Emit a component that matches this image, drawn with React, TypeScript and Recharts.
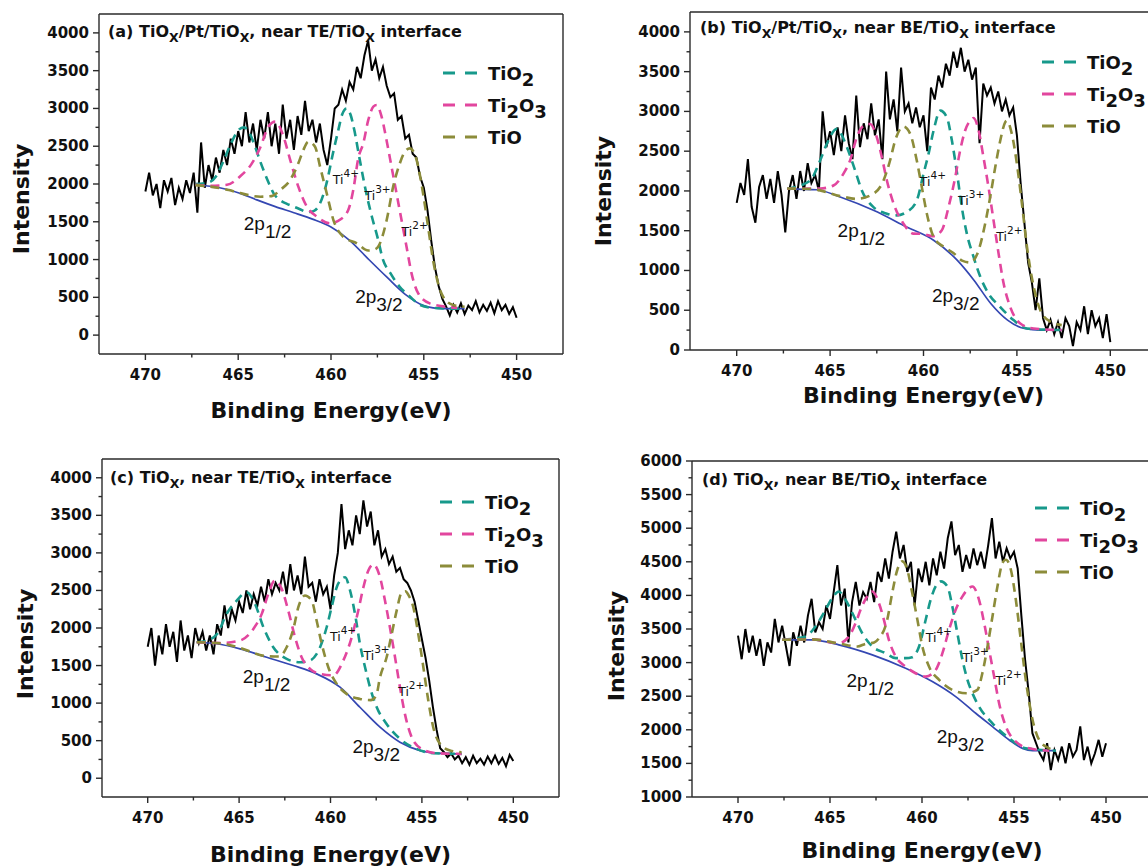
import React from 'react';
import { LineChart, Line, XAxis, YAxis, ReferenceDot, Legend } from 'recharts';

// energy grid of the measured spectra (eV)
const RAW_E = [
  470, 469.8, 469.6, 469.4, 469.2, 469, 468.8, 468.6, 468.4, 468.2,
  468, 467.8, 467.6, 467.4, 467.2, 467, 466.8, 466.6, 466.4, 466.2,
  466, 465.8, 465.6, 465.4, 465.2, 465, 464.8, 464.6, 464.4, 464.2,
  464, 463.8, 463.6, 463.4, 463.2, 463, 462.8, 462.6, 462.4, 462.2,
  462, 461.8, 461.6, 461.4, 461.2, 461, 460.8, 460.6, 460.4, 460.2,
  460, 459.8, 459.6, 459.4, 459.2, 459, 458.8, 458.6, 458.4, 458.2,
  458, 457.8, 457.6, 457.4, 457.2, 457, 456.8, 456.6, 456.4, 456.2,
  456, 455.8, 455.6, 455.4, 455.2, 455, 454.8, 454.6, 454.4, 454.2,
  454, 453.8, 453.6, 453.4, 453.2, 453, 452.8, 452.6, 452.4, 452.2,
  452, 451.8, 451.6, 451.4, 451.2, 451, 450.8, 450.6, 450.4, 450.2,
  450,
];

// measured intensity, one list per panel
const RAW_A = [
  1900, 2150, 1850, 2000, 1680, 2050, 1900, 2080, 1720, 1950,
  1800, 2050, 1880, 2150, 1620, 2550, 1950, 2250, 2050, 2350,
  2150, 2450, 2250, 2600, 2400, 2700, 2500, 2950, 2550, 2800,
  2450, 2850, 2600, 2950, 2500, 2800, 2400, 3050, 2600, 2850,
  2450, 2900, 2650, 3100, 2700, 2850, 2550, 2800, 2450, 2250,
  2600, 3000, 3050, 3250, 3100, 3350, 3250, 3550, 3400, 3700,
  3900, 3500, 3650, 3400, 3550, 3300, 3150, 3200, 2850, 2900,
  2600, 2650, 2400, 2350, 2100, 1950, 1650, 1250, 900, 650,
  480, 380, 260, 400, 300, 420, 280, 390, 330, 450,
  300, 400, 320, 430, 290, 450, 330, 400, 280, 370,
  230,
];
const RAW_B = [
  1850, 2100, 1950, 2400, 1800, 1600, 2050, 2200, 1900, 2150,
  1850, 2250, 1950, 1480, 2000, 2200, 1900, 2250, 2000, 2350,
  2100, 2200, 2000, 3000, 2550, 2750, 2450, 2800, 2500, 2950,
  2600, 2400, 3200, 2550, 2850, 2650, 3100, 2700, 2900, 2400,
  3500, 2900, 3150, 2750, 3550, 3000, 3100, 2850, 3050, 2800,
  2950, 2500, 3300, 3150, 3450, 3300, 3600, 3450, 3750, 3550,
  3800, 3500, 3650, 3400, 3550, 2600, 3350, 3200, 3300, 3100,
  3250, 3000, 3150, 2950, 3050, 2700, 2100, 1600, 1100, 850,
  500, 900, 400, 250, 380, 200, 350, 150, 400, 300,
  50, 350, 250, 550, 200, 500, 300, 400, 150, 450,
  100,
];
const RAW_C = [
  1750, 2000, 1500, 1900, 1650, 2050, 1750, 1950, 1550, 2100,
  1700, 1900, 1600, 2000, 1800, 1950, 1700, 1900, 1650, 2050,
  1900, 2300, 2000, 2250, 2100, 2350, 2200, 2500, 2250, 2450,
  2300, 2550, 2350, 2650, 2450, 2600, 2500, 2750, 2450, 2850,
  2500, 2700, 2450, 2950, 2550, 2600, 2350, 2650, 2450, 2550,
  2250, 2700, 3000, 3650, 3050, 3300, 3100, 3500, 3250, 3700,
  3350, 3550, 3100, 3300, 2950, 3050, 2850, 2950, 2750, 2800,
  2650, 2600, 2500, 2350, 2100, 1850, 1600, 1300, 950, 650,
  400, 350, 280, 330, 250, 300, 200, 280, 180, 300,
  200, 260, 180, 290, 200, 300, 190, 270, 160, 310,
  230,
];
const RAW_D = [
  3400, 3050, 3500, 3150, 3400, 3100, 3350, 2950, 3300, 3150,
  3650, 3300, 3550, 3250, 2950, 3450, 3250, 3550, 3300, 3700,
  3950, 3450, 3600, 3500, 3850, 3650, 4050, 4450, 3850, 4100,
  3300, 3900, 4200, 3850, 4050, 3950, 4200, 3900, 4350, 4200,
  4550, 4250, 4650, 4950, 4550, 4750, 4350, 4500, 3850, 4400,
  4200, 4500, 4150, 4550, 4300, 4650, 4400, 4850, 5100, 4600,
  4750, 4350, 4600, 4400, 4700, 4450, 4650, 4400, 4750, 5150,
  4550, 4800, 4500, 4700, 4550, 4650, 4400, 3700, 3050, 2550,
  1950, 1800, 1650, 1550, 1800, 1400, 1700, 1550, 1750, 1500,
  1800, 1600, 1700, 2050, 1550, 1750, 1500, 1650, 1850, 1600,
  1800,
];

type Pair = [number, number];

// Shirley background and fitted components, [energy, intensity]
const BG_A: Pair[] = [[467.3, 1990], [466.5, 1970], [466, 1950], [465, 1885], [464, 1790], [463, 1700], [462, 1620], [461, 1535], [460, 1430], [459, 1255], [458, 1010], [457, 770], [456, 540], [455, 390], [454.5, 360], [454, 350], [452.8, 350]];
const TIO2_A: Pair[] = [[467.3, 2000], [466.6, 2020], [466.2, 2100], [465.8, 2300], [465.4, 2530], [465, 2710], [464.7, 2750], [464.4, 2680], [464.1, 2500], [463.8, 2290], [463.4, 2040], [463.1, 1880], [462.7, 1780], [462.4, 1740], [462, 1700], [461.7, 1670], [461.3, 1630], [460.95, 1640], [460.6, 1740], [460.25, 2000], [459.9, 2400], [459.6, 2720], [459.4, 2920], [459.16, 3000], [458.95, 2920], [458.75, 2720], [458.45, 2320], [458.1, 1880], [457.8, 1570], [457.5, 1300], [457.2, 1000], [456.8, 820], [456.3, 640], [455.75, 510], [455.2, 400], [454.5, 360], [453.5, 350], [452.8, 350]];
const TI2O3_A: Pair[] = [[467.3, 1990], [466.5, 1975], [465.6, 1990], [464.9, 2100], [464.27, 2270], [463.8, 2490], [463.37, 2760], [463, 2825], [462.56, 2630], [462.2, 2320], [461.76, 1965], [461.3, 1700], [460.77, 1570], [460.05, 1480], [459.5, 1530], [459.07, 1656], [458.8, 1920], [458.53, 2340], [458.26, 2540], [457.99, 2848], [457.72, 3024], [457.54, 3046], [457.28, 2896], [457.01, 2583], [456.74, 2230], [456.47, 1877], [456.2, 1523], [455.93, 1170], [455.66, 817], [455.3, 552], [454.68, 420], [453.78, 375], [453.2, 360]];
const TIO_A: Pair[] = [[467.3, 1985], [466.5, 1965], [465.5, 1920], [464.9, 1880], [463.8, 1832], [463.2, 1840], [462.74, 1920], [462.2, 2053], [461.76, 2274], [461.49, 2450], [461.22, 2560], [460.86, 2494], [460.59, 2230], [460.23, 1876], [459.87, 1523], [459.34, 1302], [458.6, 1214], [458, 1120], [457.7, 1130], [457.46, 1170], [457, 1523], [456.65, 1965], [456.29, 2274], [456.02, 2428], [455.75, 2472], [455.39, 2318], [455.04, 1876], [454.77, 1435], [454.5, 993], [454.23, 684], [453.96, 508], [453.42, 397], [452.8, 375]];

const BG_B: Pair[] = [[467.3, 2027], [465.7, 2015], [464.46, 1923], [462.68, 1756], [460.9, 1547], [459.46, 1380], [458.2, 1130], [457.3, 878], [456.4, 585], [455.5, 376], [454.6, 270], [453.75, 250], [452.6, 250]];
const TIO2_B: Pair[] = [[467.3, 2027], [466.07, 2130], [465.54, 2380], [465.18, 2590], [464.64, 2780], [464.1, 2550], [463.66, 2257], [463.3, 2006], [462.68, 1797], [461.96, 1714], [461.43, 1693], [460.9, 1735], [460.36, 1880], [460, 2215], [459.73, 2466], [459.46, 2760], [459.1, 3010], [458.75, 2926], [458.48, 2633], [458.2, 2215], [457.95, 1797], [457.68, 1463], [457.32, 1170], [456.96, 920], [456.52, 710], [455.9, 543], [455.18, 376], [454.46, 270], [452.6, 250]];
const TI2O3_B: Pair[] = [[467.3, 2027], [465.54, 2030], [464.82, 2069], [464.29, 2215], [463.93, 2383], [463.57, 2675], [463.2, 2822], [462.86, 2842], [462.5, 2675], [462.23, 2424], [461.96, 2132], [461.6, 1839], [461.07, 1588], [460.54, 1463], [460.09, 1460], [459.5, 1430], [459.02, 1505], [458.66, 1797], [458.3, 2174], [458.04, 2508], [457.77, 2760], [457.41, 2905], [457.32, 2918], [457.05, 2760], [456.79, 2424], [456.52, 2048], [456.25, 1630], [455.98, 1212], [455.71, 836], [455.36, 543], [454.82, 334], [454.1, 270], [452.6, 250]];
const TIO_B: Pair[] = [[467.3, 2030], [466, 2025], [464.46, 1935], [463.57, 1900], [462.68, 1965], [462.14, 2132], [461.79, 2383], [461.52, 2633], [461.07, 2810], [460.71, 2717], [460.36, 2383], [460.09, 2048], [459.82, 1714], [459.46, 1421], [458.93, 1300], [458.4, 1220], [457.9, 1120], [457.5, 1100], [457.05, 1254], [456.7, 1588], [456.43, 1923], [456.16, 2299], [455.89, 2633], [455.63, 2863], [455.54, 2884], [455.27, 2717], [455, 2341], [454.73, 1839], [454.46, 1296], [454.1, 794], [453.75, 502], [453.2, 355], [452.6, 313]];

const BG_C: Pair[] = [[467.32, 1810], [466.23, 1790], [464.95, 1722], [463.49, 1611], [462.03, 1500], [460.76, 1389], [459.48, 1212], [458.39, 945], [457.29, 679], [456.2, 479], [455.1, 368], [454.19, 333], [453.28, 324], [452.83, 324]];
const TIO2_C: Pair[] = [[467.32, 1810], [466.8, 1830], [466.2, 1922], [465.68, 2188], [465.13, 2365], [464.59, 2476], [464.13, 2321], [463.67, 2010], [463.13, 1744], [462.4, 1589], [461.67, 1544], [461.12, 1567], [460.57, 1744], [460.21, 2010], [459.94, 2277], [459.66, 2543], [459.39, 2654], [459.2, 2676], [458.93, 2499], [458.66, 2188], [458.39, 1789], [458.11, 1478], [457.84, 1212], [457.47, 945], [456.93, 723], [456.2, 524], [455.29, 390], [454.38, 333], [452.83, 324]];
const TI2O3_C: Pair[] = [[467.32, 1810], [466, 1800], [464.95, 1833], [464.22, 1988], [463.76, 2188], [463.4, 2454], [463.04, 2632], [462.67, 2521], [462.31, 2232], [461.94, 1877], [461.58, 1611], [461.12, 1456], [460.57, 1389], [459.85, 1370], [459.3, 1567], [458.84, 1877], [458.48, 2232], [458.2, 2543], [457.93, 2765], [457.66, 2845], [457.29, 2676], [457.02, 2365], [456.75, 2010], [456.47, 1611], [456.2, 1212], [455.93, 857], [455.56, 546], [455.01, 390], [454.19, 333], [452.83, 324]];
const TIO_C: Pair[] = [[467.32, 1810], [466, 1795], [464.95, 1735], [463.5, 1625], [462.8, 1620], [462.4, 1744], [462.03, 1988], [461.76, 2277], [461.4, 2432], [461.03, 2365], [460.76, 2099], [460.48, 1789], [460.12, 1478], [459.66, 1256], [459.12, 1123], [458.39, 1056], [457.8, 1040], [457.5, 1100], [457.29, 1345], [456.93, 1611], [456.65, 1922], [456.38, 2232], [456.11, 2470], [455.9, 2490], [455.74, 2440], [455.47, 2277], [455.2, 1922], [454.92, 1478], [454.65, 1034], [454.38, 679], [454.01, 457], [453.46, 368], [452.83, 346]];

const BG_D: Pair[] = [[467.6, 3339], [465.97, 3339], [464.52, 3264], [462.7, 3115], [460.89, 2916], [459.44, 2718], [458.17, 2494], [457.08, 2246], [456.17, 2047], [455.26, 1848], [454.54, 1724], [453.99, 1689], [452.72, 1689]];
const TIO2_D: Pair[] = [[467.6, 3339], [466.33, 3389], [465.79, 3538], [465.34, 3736], [464.88, 3960], [464.52, 4058], [464.16, 3935], [463.61, 3637], [463.25, 3439], [462.7, 3240], [461.98, 3141], [461.43, 3066], [460.89, 3066], [460.53, 3080], [460.16, 3239], [459.8, 3637], [459.53, 3935], [459.26, 4133], [458.98, 4208], [458.62, 4133], [458.35, 3836], [458.08, 3439], [457.8, 3041], [457.53, 2743], [457.26, 2545], [456.9, 2346], [456.17, 2097], [455.26, 1873], [454.36, 1724], [452.72, 1689]];
const TI2O3_D: Pair[] = [[467.6, 3339], [465.97, 3345], [464.52, 3289], [463.97, 3389], [463.61, 3587], [463.34, 3786], [462.98, 3985], [462.7, 4058], [462.34, 3885], [462.07, 3637], [461.8, 3339], [461.43, 3091], [460.89, 2941], [460.35, 2842], [459.8, 2792], [459.26, 2891], [458.89, 3140], [458.53, 3488], [458.17, 3786], [457.8, 3985], [457.44, 4109], [457.26, 4133], [456.9, 3935], [456.62, 3587], [456.35, 3190], [456.08, 2792], [455.81, 2395], [455.44, 2047], [454.9, 1823], [454.17, 1724], [453.09, 1689]];
const TIO_D: Pair[] = [[467.6, 3339], [465.97, 3345], [464.52, 3285], [463.5, 3240], [463.07, 3280], [462.6, 3300], [462.34, 3360], [461.89, 3637], [461.62, 4034], [461.34, 4382], [461.07, 4506], [460.8, 4382], [460.53, 4034], [460.25, 3637], [459.98, 3240], [459.62, 2941], [459.07, 2743], [458.35, 2594], [457.53, 2544], [456.99, 2594], [456.72, 2842], [456.44, 3240], [456.17, 3687], [455.9, 4133], [455.63, 4481], [455.44, 4531], [455.17, 4382], [454.9, 3935], [454.63, 3339], [454.36, 2743], [453.99, 2147], [453.63, 1848], [453.09, 1724], [452.72, 1699]];

const X_TICKS = [470, 467.5, 465, 462.5, 460, 457.5, 455, 452.5, 450];
const Y_TICKS_4K = [0, 250, 500, 750, 1000, 1250, 1500, 1750, 2000, 2250, 2500, 2750, 3000, 3250, 3500, 3750, 4000];
const Y_TICKS_6K = [1000, 1250, 1500, 1750, 2000, 2250, 2500, 2750, 3000, 3250, 3500, 3750, 4000, 4250, 4500, 4750, 5000, 5250, 5500, 5750, 6000];

const C_RAW = '#000000';
const C_BG = '#3447b2';
const C_TIO2 = '#17998b';
const C_TI2O3 = '#e2469e';
const C_TIO = '#8c8c3a';
const AXIS = '#2a2a2a';
const TXT = '#111111';
const BOLD = "'DejaVu Sans', sans-serif";
const PLAIN = "'Liberation Sans', Arial, sans-serif";

type Seg = { t: string; s?: 'sub' | 'sup' };

const segs = (list: Seg[], size: number, small: number, shift: number) => {
  let cur = 0;
  return list.map((g, i) => {
    const target = g.s === 'sub' ? shift : g.s === 'sup' ? -shift : 0;
    const dy = target - cur;
    cur = target;
    return (
      <tspan key={i} dy={dy} fontSize={g.s ? small : size}>
        {g.t}
      </tspan>
    );
  });
};

const LEGEND = [
  { color: C_TIO2, label: [{ t: 'TiO' }, { t: '2', s: 'sub' }] as Seg[] },
  { color: C_TI2O3, label: [{ t: 'Ti' }, { t: '2', s: 'sub' }, { t: 'O' }, { t: '3', s: 'sub' }] as Seg[] },
  { color: C_TIO, label: [{ t: 'TiO' }] as Seg[] },
];

const LegendBox = ({ textX, gap }: { textX: number; gap: number }) => (
  <svg width={150} height={110} style={{ overflow: 'visible' }}>
    {LEGEND.map((it, i) => (
      <g key={i}>
        <line x1={0} x2={34} y1={10 + i * gap} y2={10 + i * gap} stroke={it.color} strokeWidth={3} strokeDasharray="12 10" />
        <text x={textX} y={17 + i * gap} fontFamily={BOLD} fontWeight="bold" fill={TXT}>
          {segs(it.label, 18, 18, 6)}
        </text>
      </g>
    ))}
  </svg>
);

const YTick = (props: any) => {
  const { x, y, payload } = props;
  const v = payload.value;
  const major = v % 500 === 0;
  return (
    <g>
      <line x1={x} x2={x - (major ? 6 : 3.5)} y1={y} y2={y} stroke={AXIS} strokeWidth={1.4} />
      {major && (
        <text x={x - 10} y={y} dy={5} textAnchor="end" fontFamily={BOLD} fontWeight="bold" fontSize={15} fill={TXT}>
          {v}
        </text>
      )}
    </g>
  );
};

const XTick = (props: any) => {
  const { x, y, payload } = props;
  const v = payload.value;
  const major = v % 5 === 0;
  return (
    <g>
      <line x1={x} x2={x} y1={y} y2={y + (major ? 6 : 3.5)} stroke={AXIS} strokeWidth={1.4} />
      {major && (
        <text x={x} y={y + 26} textAnchor="middle" fontFamily={BOLD} fontWeight="bold" fontSize={15} fill={TXT}>
          {v}
        </text>
      )}
    </g>
  );
};

type Note = { e: number; v: number; main: string; script: string; kind: 'ti' | 'p' };

const notes = (ti4: Pair, ti3: Pair, ti2: Pair, p12: Pair, p32: Pair): Note[] => [
  { e: ti4[0], v: ti4[1], main: 'Ti', script: '4+', kind: 'ti' },
  { e: ti3[0], v: ti3[1], main: 'Ti', script: '3+', kind: 'ti' },
  { e: ti2[0], v: ti2[1], main: 'Ti', script: '2+', kind: 'ti' },
  { e: p12[0], v: p12[1], main: '2p', script: '1/2', kind: 'p' },
  { e: p32[0], v: p32[1], main: '2p', script: '3/2', kind: 'p' },
];

const NOTES_A = notes([459.9, 2000], [458.2, 1790], [456.2, 1310], [464.7, 1390], [458.7, 424]);
const NOTES_B = notes([460.2, 2060], [458.15, 1820], [456.1, 1370], [464.6, 1420], [459.55, 600]);
const NOTES_C = notes([460.03, 1833], [458.2, 1580], [456.3, 1100], [464.8, 1270], [458.8, 330]);
const NOTES_D = notes([459.8, 3308], [457.8, 3010], [456.0, 2668], [464.1, 2638], [459.2, 1803]);

const TITLE_A: Seg[] = [{ t: '(a) TiO' }, { t: 'X', s: 'sub' }, { t: '/Pt/TiO' }, { t: 'X', s: 'sub' }, { t: ', near TE/TiO' }, { t: 'X', s: 'sub' }, { t: ' interface' }];
const TITLE_B: Seg[] = [{ t: '(b) TiO' }, { t: 'X', s: 'sub' }, { t: '/Pt/TiO' }, { t: 'X', s: 'sub' }, { t: ', near BE/TiO' }, { t: 'X', s: 'sub' }, { t: ' interface' }];
const TITLE_C: Seg[] = [{ t: '(c) TiO' }, { t: 'X', s: 'sub' }, { t: ', near TE/TiO' }, { t: 'X', s: 'sub' }, { t: ' interface' }];
const TITLE_D: Seg[] = [{ t: '(d) TiO' }, { t: 'X', s: 'sub' }, { t: ', near BE/TiO' }, { t: 'X', s: 'sub' }, { t: ' interface' }];

const toPts = (list: Pair[]) => list.map(([e, v]) => ({ e, v }));
const rawPts = (vals: number[]) => RAW_E.map((e, i) => ({ e, v: vals[i] }));

// plot frame in page pixels: left, top, right, bottom
type PanelCfg = {
  frame: [number, number, number, number];
  yDomain: [number, number];
  yTicks: number[];
  raw: number[];
  bg: Pair[];
  tio2: Pair[];
  ti2o3: Pair[];
  tio: Pair[];
  notes: Note[];
  title: Seg[];
  titleAt: [number, number];
  yLab: [number, number];
  xLab: number;
  legendAt: [number, number];
};

const W = 1160;
const H = 868;

const PANELS: PanelCfg[] = [
  {
    frame: [99, 14, 563, 354],
    yDomain: [-250, 4250], yTicks: Y_TICKS_4K,
    raw: RAW_A, bg: BG_A, tio2: TIO2_A, ti2o3: TI2O3_A, tio: TIO_A, notes: NOTES_A,
    title: TITLE_A, titleAt: [9, 23], yLab: [-70, 15], xLab: 64, legendAt: [443, 63],
  },
  {
    frame: [690, 12, 1157, 350],
    yDomain: [0, 4250], yTicks: Y_TICKS_4K,
    raw: RAW_B, bg: BG_B, tio2: TIO2_B, ti2o3: TI2O3_B, tio: TIO_B, notes: NOTES_B,
    title: TITLE_B, titleAt: [10, 21], yLab: [-79, 10], xLab: 53, legendAt: [1042, 52],
  },
  {
    frame: [102, 459, 559, 797],
    yDomain: [-250, 4250], yTicks: Y_TICKS_4K,
    raw: RAW_C, bg: BG_C, tio2: TIO2_C, ti2o3: TI2O3_C, tio: TIO_C, notes: NOTES_C,
    title: TITLE_C, titleAt: [8, 24], yLab: [-69, 16], xLab: 65, legendAt: [440, 492],
  },
  {
    frame: [692, 461, 1152, 797],
    yDomain: [1000, 6000], yTicks: Y_TICKS_6K,
    raw: RAW_D, bg: BG_D, tio2: TIO2_D, ti2o3: TI2O3_D, tio: TIO_D, notes: NOTES_D,
    title: TITLE_D, titleAt: [10, 23.5], yLab: [-68, 17], xLab: 61, legendAt: [1035, 498],
  },
];

const NoteShape = ({ n, cx, cy }: { n: Note; cx: number; cy: number }) => {
  if (n.kind === 'ti') {
    return (
      <text x={cx} y={cy} fontFamily={BOLD} fill={TXT}>
        {segs([{ t: n.main }, { t: n.script, s: 'sup' }], 12.5, 10.5, 7)}
      </text>
    );
  }
  return (
    <text x={cx} y={cy} fontFamily={PLAIN} fill={TXT}>
      {segs([{ t: n.main }, { t: n.script, s: 'sub' }], 19, 19, 8)}
    </text>
  );
};

const Panel = ({ cfg }: { cfg: PanelCfg }) => {
  const [l, t, r, b] = cfg.frame;
  // every axis takes 1px, so the margins are one pixel smaller than the frame
  const margin = { left: l - 1, top: t - 1, right: W - r - 1, bottom: H - b - 1 };
  const dash = { strokeWidth: 2.6, strokeDasharray: '9 6', dot: false, activeDot: false, isAnimationActive: false } as const;
  return (
    <div style={{ position: 'absolute', left: 0, top: 0 }}>
      <LineChart width={W} height={H} margin={margin}>
        <XAxis
          dataKey="e"
          type="number"
          domain={[447.5, 472.5]}
          reversed
          ticks={X_TICKS}
          interval={0}
          height={1}
          tickSize={0}
          tickMargin={0}
          tickLine={false}
          tick={XTick}
          axisLine={{ stroke: AXIS, strokeWidth: 1.4 }}
          label={(p: any) => {
            const vb = p.viewBox;
            return (
              <text x={vb.x + vb.width / 2} y={vb.y + cfg.xLab} textAnchor="middle" fontFamily={BOLD} fontWeight="bold" fontSize={22} fill={TXT}>
                Binding Energy(eV)
              </text>
            );
          }}
        />
        <XAxis
          xAxisId="top"
          orientation="top"
          type="number"
          domain={[447.5, 472.5]}
          reversed
          height={1}
          tick={false}
          tickLine={false}
          axisLine={{ stroke: AXIS, strokeWidth: 1.4 }}
          label={(p: any) => {
            const vb = p.viewBox;
            return (
              <text x={vb.x + cfg.titleAt[0]} y={vb.y + vb.height + cfg.titleAt[1]} fontFamily={BOLD} fontWeight="bold" fill={TXT}>
                {segs(cfg.title, 16, 12.5, 5)}
              </text>
            );
          }}
        />
        <YAxis
          type="number"
          domain={cfg.yDomain}
          ticks={cfg.yTicks}
          interval={0}
          width={1}
          tickSize={0}
          tickMargin={0}
          tickLine={false}
          tick={YTick}
          axisLine={{ stroke: AXIS, strokeWidth: 1.4 }}
          label={(p: any) => {
            const vb = p.viewBox;
            const x = vb.x + vb.width + cfg.yLab[0];
            const y = vb.y + vb.height / 2 + cfg.yLab[1];
            return (
              <text x={x} y={y} transform={`rotate(-90 ${x} ${y})`} textAnchor="middle" fontFamily={BOLD} fontWeight="bold" fontSize={22} fill={TXT}>
                Intensity
              </text>
            );
          }}
        />
        <YAxis
          yAxisId="right"
          orientation="right"
          type="number"
          domain={cfg.yDomain}
          width={1}
          tick={false}
          tickLine={false}
          axisLine={{ stroke: AXIS, strokeWidth: 1.4 }}
        />
        <Line data={rawPts(cfg.raw)} dataKey="v" type="linear" stroke={C_RAW} strokeWidth={2} strokeLinejoin="miter" dot={false} activeDot={false} isAnimationActive={false} legendType="none" />
        <Line data={toPts(cfg.bg)} dataKey="v" type="monotone" stroke={C_BG} strokeWidth={1.7} dot={false} activeDot={false} isAnimationActive={false} legendType="none" />
        <Line data={toPts(cfg.tio2)} dataKey="v" type="monotone" stroke={C_TIO2} name="TiO2" {...dash} />
        <Line data={toPts(cfg.ti2o3)} dataKey="v" type="monotone" stroke={C_TI2O3} name="Ti2O3" {...dash} />
        <Line data={toPts(cfg.tio)} dataKey="v" type="monotone" stroke={C_TIO} name="TiO" {...dash} />
        {cfg.notes.map((n, i) => (
          <ReferenceDot
            key={i}
            x={n.e}
            y={n.v}
            r={0}
            ifOverflow="visible"
            shape={(p: any) => <NoteShape n={n} cx={p.cx} cy={p.cy} />}
          />
        ))}
        <Legend
          layout="horizontal"
          verticalAlign="middle"
          align="center"
          wrapperStyle={{ left: cfg.legendAt[0], top: cfg.legendAt[1], width: 150, height: 110 }}
          content={() => <LegendBox textX={45} gap={32} />}
        />
      </LineChart>
    </div>
  );
};

export default function App() {
  return (
    <div style={{ position: 'absolute', left: 0, top: 0, width: 1148, height: 868, overflow: 'hidden', background: '#fff' }}>
      {PANELS.map((cfg, i) => (
        <Panel key={i} cfg={cfg} />
      ))}
    </div>
  );
}
